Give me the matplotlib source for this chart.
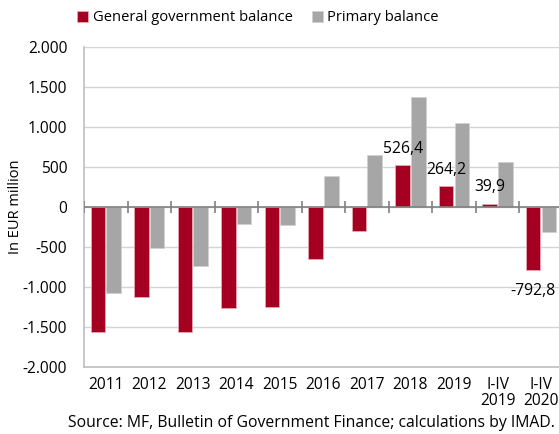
import numpy as np
import matplotlib
matplotlib.use("Agg")
from matplotlib import pyplot as plt
from matplotlib.ticker import FuncFormatter

plt.rcParams['font.family'] = ['Open Sans', 'DejaVu Sans']

# data (EUR million)
categories = ["2011", "2012", "2013", "2014", "2015", "2016", "2017", "2018", "2019",
              "I-IV\n2019", "I-IV\n2020"]
general_balance = [-1559, -1129, -1559, -1267, -1246, -650, -300, 526.4, 264.2, 39.9, -792.8]
primary_balance = [-1079, -514, -737, -209, -225, 383, 646, 1379, 1050, 562, -316]
labelled = [7, 8, 9, 10]   # bars of general balance with a value label

RED = "#A50021"
GREY = "#A6A6A6"

fig = plt.figure(figsize=(5.59, 4.34), dpi=100)
ax = fig.add_axes([84/559, 67/434, 478.8/559, 320/434])

x = np.arange(len(categories))
w = 0.335
ax.bar(x - 0.18, general_balance, w, color=RED, edgecolor="#E8B0B8", linewidth=0.5,
       label="General government balance", zorder=3)
ax.bar(x + 0.18, primary_balance, w, color=GREY, edgecolor="#D0D0D0", linewidth=0.5,
       label="Primary balance", zorder=3)

for i in labelled:
    v = general_balance[i]
    txt = f"{v:.1f}".replace(".", ",")
    if v >= 0:
        ax.annotate(txt, (x[i] - 0.18, v), xytext=(0, 6), textcoords="offset points",
                    ha="center", va="bottom", fontsize=11.3)
    else:
        ax.annotate(txt, (x[i] - 0.18, v), xytext=(0, -9), textcoords="offset points",
                    ha="center", va="top", fontsize=11.3)

ax.set_xlim(-0.5, len(categories) - 0.5)
ax.set_ylim(-2000, 2000)
ax.set_yticks(np.arange(-2000, 2001, 500))
ax.yaxis.set_major_formatter(FuncFormatter(lambda v, p: f"{int(v):,}".replace(",", ".")))
ax.set_xticks(x)
ax.set_xticklabels(categories, linespacing=1.05)
ax.tick_params(axis="x", length=0, pad=7, labelsize=11.2)
ax.tick_params(axis="y", length=0, pad=12, labelsize=11.2)

ax.grid(axis="y", color="#D4D4D4", linewidth=1, zorder=0)
ax.axhline(0, color="#808080", linewidth=1.2, zorder=4)
ax.vlines(np.arange(0, len(categories)) - 0.5, -70, 70, color="#808080", linewidth=1.2, zorder=4)

for s in ["top", "right"]:
    ax.spines[s].set_visible(False)
for s in ["left", "bottom"]:
    ax.spines[s].set_color("#BFBFBF")
    ax.spines[s].set_linewidth(1.2)

ax.set_ylabel("In EUR million", fontsize=10.5)
ax.yaxis.set_label_coords(-61/478.8, 0.5)

fig.legend(loc="upper left", bbox_to_anchor=(67/559, 1.0), ncol=2, frameon=False,
           handlelength=0.75, handleheight=0.75, handletextpad=0.3, columnspacing=1.3,
           fontsize=10.6, borderaxespad=0.3)

fig.text(555/559, 3/434, "Source: MF, Bulletin of Government Finance; calculations by IMAD.",
         ha="right", va="bottom", fontsize=11.3)

fig.savefig("out.png", dpi=100)
